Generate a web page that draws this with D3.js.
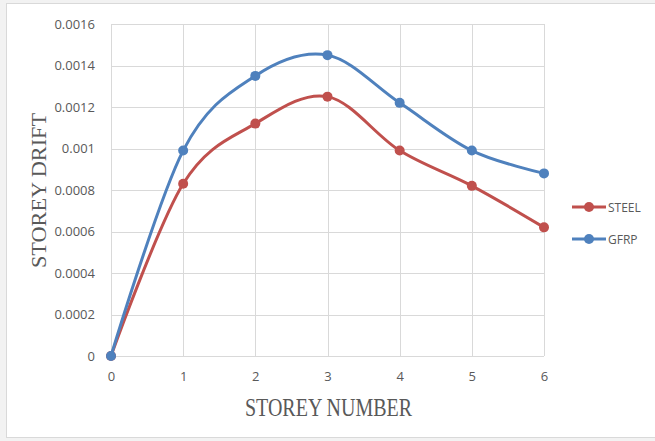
<!DOCTYPE html>
<html>
<head>
<meta charset="utf-8">
<script src="https://cdn.jsdelivr.net/npm/d3@7"></script>
<style>
  html, body { margin: 0; padding: 0; background: #f2f2f2; }
  svg { display: block; }
</style>
</head>
<body>
<svg id="chart" width="655" height="441"></svg>
<script>
// Storey drift per storey for the two reinforcement types
const storeys = [0, 1, 2, 3, 4, 5, 6];
const steelDrift = [0, 0.00083, 0.00112, 0.00125, 0.00099, 0.00082, 0.00062];
const gfrpDrift = [0, 0.00099, 0.00135, 0.00145, 0.00122, 0.00099, 0.00088];
const yTicks = [0, 0.0002, 0.0004, 0.0006, 0.0008, 0.001, 0.0012, 0.0014, 0.0016];
const seriesNames = ["STEEL", "GFRP"];
const seriesColors = ["#c0504d", "#4f81bd"];

const svg = d3.select("#chart");

// chart card
svg.append("rect")
  .attr("x", 6.5).attr("y", 3.5)
  .attr("width", 660).attr("height", 434)
  .attr("fill", "#ffffff")
  .attr("stroke", "#d9d9d9");

const plotLeft = 111, plotRight = 544, plotTop = 24, plotBottom = 356;

const x = d3.scaleLinear().domain([0, 6]).range([plotLeft, plotRight]);
const y = d3.scaleLinear().domain([0, 0.0016]).range([plotBottom, plotTop]);

// gridlines
const grid = svg.append("g");
grid.selectAll("line.h").data(yTicks).enter().append("line")
  .attr("x1", plotLeft).attr("x2", plotRight)
  .attr("y1", d => Math.round(y(d)) + 0.5).attr("y2", d => Math.round(y(d)) + 0.5)
  .attr("stroke", "#d9d9d9").attr("stroke-width", 1);
grid.selectAll("line.v").data(storeys).enter().append("line")
  .attr("y1", plotTop).attr("y2", plotBottom)
  .attr("x1", d => Math.round(x(d)) + 0.5).attr("x2", d => Math.round(x(d)) + 0.5)
  .attr("stroke", "#d9d9d9").attr("stroke-width", 1);

// axes (labels only, Excel style)
const tickFont = "'Open Sans', 'Liberation Sans', sans-serif";
const yAxis = d3.axisLeft(y).tickValues(yTicks).tickSize(0).tickPadding(16)
  .tickFormat(d => d === 0 ? "0" : String(+d.toPrecision(2)));
svg.append("g").attr("transform", `translate(${plotLeft},0)`).call(yAxis)
  .call(g => g.select(".domain").remove())
  .selectAll("text")
  .attr("font-family", tickFont)
  .attr("font-size", 13).attr("fill", "#595959");

const xAxis = d3.axisBottom(x).tickValues(storeys).tickSize(0).tickPadding(16)
  .tickFormat(d3.format("d"));
svg.append("g").attr("transform", `translate(0,${plotBottom})`).call(xAxis)
  .call(g => g.select(".domain").remove())
  .selectAll("text")
  .attr("font-family", tickFont)
  .attr("font-size", 13).attr("fill", "#595959");

// axis titles
svg.append("text")
  .attr("x", 245).attr("y", 416)
  .attr("textLength", 167).attr("lengthAdjust", "spacingAndGlyphs")
  .attr("font-family", "'Liberation Serif', serif")
  .attr("font-size", 25).attr("fill", "#595959")
  .text("STOREY NUMBER");

svg.append("text")
  .attr("transform", "translate(46,268) rotate(-90)")
  .attr("textLength", 155).attr("lengthAdjust", "spacingAndGlyphs")
  .attr("font-family", "'Liberation Serif', serif")
  .attr("font-size", 20).attr("fill", "#595959")
  .text("STOREY DRIFT");

// series
const series = [steelDrift, gfrpDrift];
const line = d3.line()
  .x((d, i) => x(storeys[i]))
  .y(d => y(d))
  .curve(d3.curveCatmullRom.alpha(0));

series.forEach((vals, s) => {
  const g = svg.append("g");
  g.append("path")
    .attr("d", line(vals))
    .attr("fill", "none")
    .attr("stroke", seriesColors[s])
    .attr("stroke-width", 3)
    .attr("stroke-linecap", "round");
  g.selectAll("circle").data(vals).enter().append("circle")
    .attr("cx", (d, i) => x(storeys[i]))
    .attr("cy", d => y(d))
    .attr("r", 5)
    .attr("fill", seriesColors[s]);
});

// legend
const legend = svg.append("g");
seriesNames.forEach((name, s) => {
  const ly = 207 + s * 32;
  legend.append("line")
    .attr("x1", 572).attr("x2", 606)
    .attr("y1", ly).attr("y2", ly)
    .attr("stroke", seriesColors[s]).attr("stroke-width", 3);
  legend.append("circle")
    .attr("cx", 589).attr("cy", ly).attr("r", 5)
    .attr("fill", seriesColors[s]);
  legend.append("text")
    .attr("x", 608).attr("y", ly + 4.5)
    .attr("font-family", tickFont)
    .attr("font-size", 12).attr("fill", "#595959")
    .text(name);
});
</script>
</body>
</html>
